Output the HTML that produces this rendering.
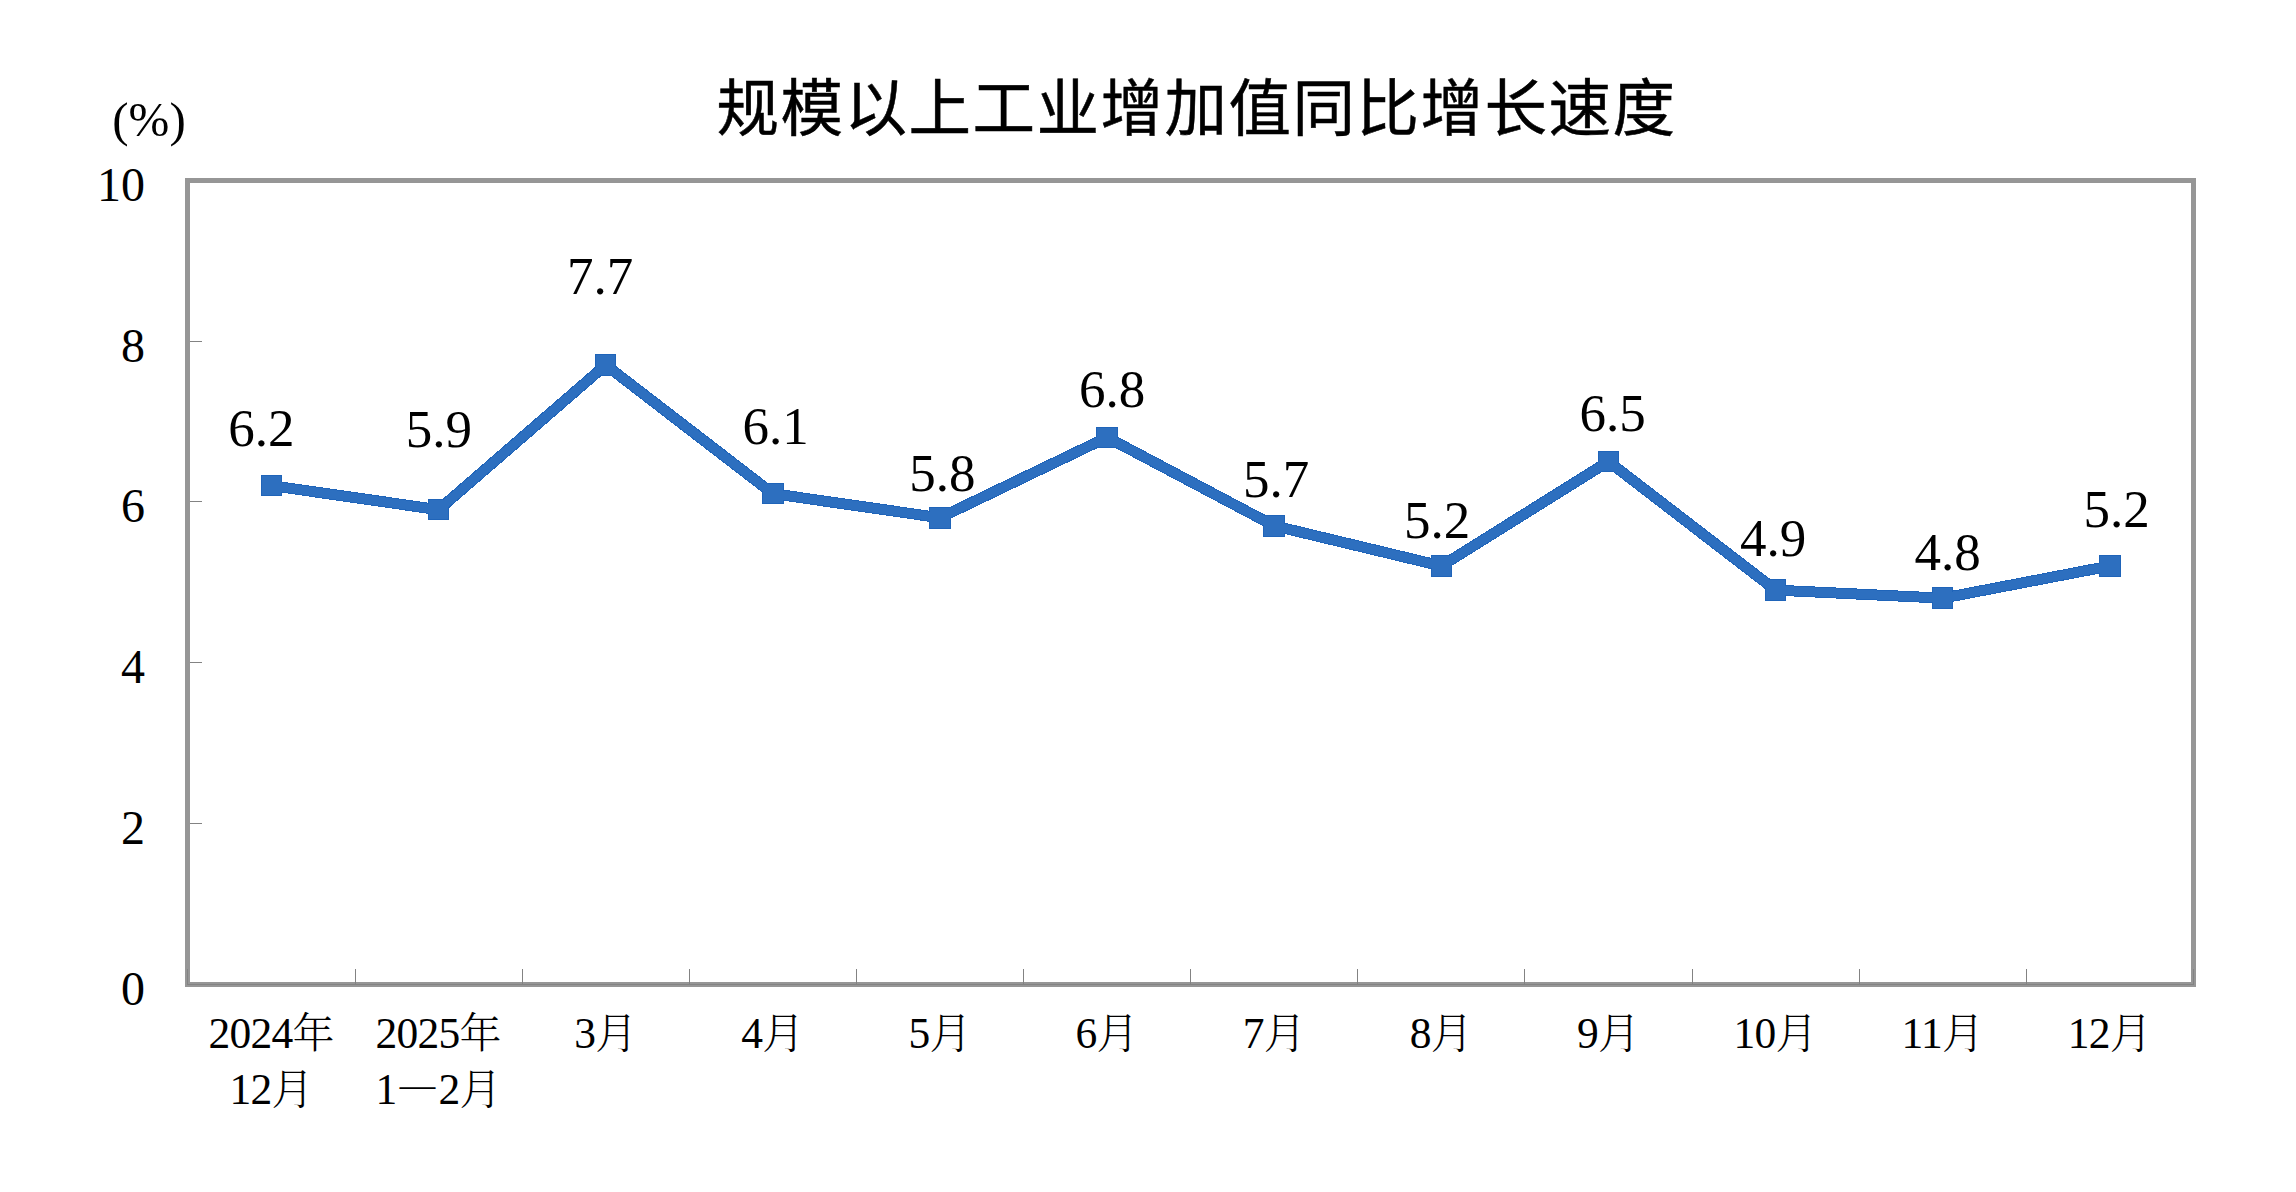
<!DOCTYPE html>
<html lang="zh-CN">
<head>
<meta charset="utf-8">
<title>规模以上工业增加值同比增长速度</title>
<style>
html,body{margin:0;padding:0;background:#fff;}
body{width:2296px;height:1192px;overflow:hidden;}
svg{display:block;}
.num{font-family:"Liberation Serif","Noto Serif CJK SC",serif;fill:#000;}
.title{font-family:"Liberation Sans","Noto Sans CJK SC",sans-serif;font-size:62.5px;letter-spacing:1.5px;font-weight:400;fill:#000;stroke:#000;stroke-width:0.5px;}
.cat{font-family:"Liberation Serif","Noto Serif CJK SC",serif;font-size:42px;font-weight:300;fill:#000;}
.cat .dash{font-family:"Noto Serif CJK SC",serif;font-weight:300;}
.cat .d{font-weight:400;font-size:43.5px;letter-spacing:-0.75px;}
</style>
</head>
<body>
<svg width="2296" height="1192" viewBox="0 0 2296 1192">
<rect x="0" y="0" width="2296" height="1192" fill="#ffffff"/>

<rect x="187.5" y="180.5" width="2006.0" height="804.0" fill="none" stroke="#969696" stroke-width="5"/>
<g stroke="#838383" stroke-width="1" shape-rendering="crispEdges">
<line x1="190" y1="823.5" x2="202" y2="823.5"/>
<line x1="190" y1="662.5" x2="202" y2="662.5"/>
<line x1="190" y1="501.5" x2="202" y2="501.5"/>
<line x1="190" y1="341.5" x2="202" y2="341.5"/>
<line x1="187.5" y1="969" x2="187.5" y2="985"/>
<line x1="355.5" y1="969" x2="355.5" y2="985"/>
<line x1="522.5" y1="969" x2="522.5" y2="985"/>
<line x1="689.5" y1="969" x2="689.5" y2="985"/>
<line x1="856.5" y1="969" x2="856.5" y2="985"/>
<line x1="1023.5" y1="969" x2="1023.5" y2="985"/>
<line x1="1190.5" y1="969" x2="1190.5" y2="985"/>
<line x1="1357.5" y1="969" x2="1357.5" y2="985"/>
<line x1="1524.5" y1="969" x2="1524.5" y2="985"/>
<line x1="1692.5" y1="969" x2="1692.5" y2="985"/>
<line x1="1859.5" y1="969" x2="1859.5" y2="985"/>
<line x1="2026.5" y1="969" x2="2026.5" y2="985"/>
<line x1="2193.5" y1="969" x2="2193.5" y2="985"/>
<line x1="187" y1="984.5" x2="2194" y2="984.5"/>
</g>
<g fill="none" stroke-linejoin="miter" stroke-linecap="butt" shape-rendering="crispEdges">
<polyline points="271.46,485.60 438.59,509.72 605.71,365.00 772.84,493.64 939.96,517.76 1107.09,437.36 1274.21,525.80 1441.34,566.00 1608.46,461.48 1775.59,590.12 1942.71,598.16 2109.84,566.00" stroke="#1f64b9" stroke-width="11"/>
<g fill="#1f64b9" stroke="none">
<rect x="260.71" y="474.85" width="21.5" height="21.5"/>
<rect x="427.84" y="498.97" width="21.5" height="21.5"/>
<rect x="594.96" y="354.25" width="21.5" height="21.5"/>
<rect x="762.09" y="482.89" width="21.5" height="21.5"/>
<rect x="929.21" y="507.01" width="21.5" height="21.5"/>
<rect x="1096.34" y="426.61" width="21.5" height="21.5"/>
<rect x="1263.46" y="515.05" width="21.5" height="21.5"/>
<rect x="1430.59" y="555.25" width="21.5" height="21.5"/>
<rect x="1597.71" y="450.73" width="21.5" height="21.5"/>
<rect x="1764.84" y="579.37" width="21.5" height="21.5"/>
<rect x="1931.96" y="587.41" width="21.5" height="21.5"/>
<rect x="2099.09" y="555.25" width="21.5" height="21.5"/>
</g>
<polyline points="271.46,485.60 438.59,509.72 605.71,365.00 772.84,493.64 939.96,517.76 1107.09,437.36 1274.21,525.80 1441.34,566.00 1608.46,461.48 1775.59,590.12 1942.71,598.16 2109.84,566.00" stroke="#2d6fbf" stroke-width="9"/>
<g fill="#2d6fbf" stroke="none">
<rect x="261.71" y="475.85" width="19.5" height="19.5"/>
<rect x="428.84" y="499.97" width="19.5" height="19.5"/>
<rect x="595.96" y="355.25" width="19.5" height="19.5"/>
<rect x="763.09" y="483.89" width="19.5" height="19.5"/>
<rect x="930.21" y="508.01" width="19.5" height="19.5"/>
<rect x="1097.34" y="427.61" width="19.5" height="19.5"/>
<rect x="1264.46" y="516.05" width="19.5" height="19.5"/>
<rect x="1431.59" y="556.25" width="19.5" height="19.5"/>
<rect x="1598.71" y="451.73" width="19.5" height="19.5"/>
<rect x="1765.84" y="580.37" width="19.5" height="19.5"/>
<rect x="1932.96" y="588.41" width="19.5" height="19.5"/>
<rect x="2100.09" y="556.25" width="19.5" height="19.5"/>
</g>
</g>
<text class="num" id="dl0" x="261.25" y="446.20" font-size="53" text-anchor="middle">6.2</text>
<text class="num" id="dl1" x="438.75" y="447.20" font-size="53" text-anchor="middle">5.9</text>
<text class="num" id="dl2" x="600.00" y="294.45" font-size="53" text-anchor="middle">7.7</text>
<text class="num" id="dl3" x="775.62" y="443.70" font-size="53" text-anchor="middle">6.1</text>
<text class="num" id="dl4" x="942.25" y="490.70" font-size="53" text-anchor="middle">5.8</text>
<text class="num" id="dl5" x="1112.12" y="407.45" font-size="53" text-anchor="middle">6.8</text>
<text class="num" id="dl6" x="1276.00" y="496.95" font-size="53" text-anchor="middle">5.7</text>
<text class="num" id="dl7" x="1437.12" y="537.95" font-size="53" text-anchor="middle">5.2</text>
<text class="num" id="dl8" x="1612.50" y="430.70" font-size="53" text-anchor="middle">6.5</text>
<text class="num" id="dl9" x="1773.00" y="556.20" font-size="53" text-anchor="middle">4.9</text>
<text class="num" id="dl10" x="1947.50" y="569.95" font-size="53" text-anchor="middle">4.8</text>
<text class="num" id="dl11" x="2116.62" y="527.20" font-size="53" text-anchor="middle">5.2</text>
<text class="num" id="yl0" x="145" y="1004.78" font-size="48" text-anchor="end">0</text>
<text class="num" id="yl2" x="145" y="843.98" font-size="48" text-anchor="end">2</text>
<text class="num" id="yl4" x="145" y="683.18" font-size="48" text-anchor="end">4</text>
<text class="num" id="yl6" x="145" y="522.38" font-size="48" text-anchor="end">6</text>
<text class="num" id="yl8" x="145" y="361.58" font-size="48" text-anchor="end">8</text>
<text class="num" id="yl10" x="145" y="200.78" font-size="48" text-anchor="end">10</text>
<text class="num" id="pct" x="149" y="135.5" font-size="49" text-anchor="middle">(%)</text>
<text class="title" id="title" x="716.5" y="130.5">规模以上工业增加值同比增长速度</text>
<text class="cat" id="c0_0" x="271.46" y="1048.00" text-anchor="middle"><tspan class="d">2024</tspan>年</text>
<text class="cat" id="c0_1" x="271.46" y="1103.60" text-anchor="middle"><tspan class="d">12</tspan>月</text>
<text class="cat" id="c1_0" x="438.59" y="1048.00" text-anchor="middle"><tspan class="d">2025</tspan>年</text>
<text class="cat" id="c1_1" x="438.59" y="1103.60" text-anchor="middle"><tspan class="d">1</tspan><tspan class="dash">—</tspan><tspan class="d">2</tspan>月</text>
<text class="cat" id="c2_0" x="605.71" y="1048.00" text-anchor="middle"><tspan class="d">3</tspan>月</text>
<text class="cat" id="c3_0" x="772.84" y="1048.00" text-anchor="middle"><tspan class="d">4</tspan>月</text>
<text class="cat" id="c4_0" x="939.96" y="1048.00" text-anchor="middle"><tspan class="d">5</tspan>月</text>
<text class="cat" id="c5_0" x="1107.09" y="1048.00" text-anchor="middle"><tspan class="d">6</tspan>月</text>
<text class="cat" id="c6_0" x="1274.21" y="1048.00" text-anchor="middle"><tspan class="d">7</tspan>月</text>
<text class="cat" id="c7_0" x="1441.34" y="1048.00" text-anchor="middle"><tspan class="d">8</tspan>月</text>
<text class="cat" id="c8_0" x="1608.46" y="1048.00" text-anchor="middle"><tspan class="d">9</tspan>月</text>
<text class="cat" id="c9_0" x="1775.59" y="1048.00" text-anchor="middle"><tspan class="d">10</tspan>月</text>
<text class="cat" id="c10_0" x="1942.71" y="1048.00" text-anchor="middle"><tspan class="d">11</tspan>月</text>
<text class="cat" id="c11_0" x="2109.84" y="1048.00" text-anchor="middle"><tspan class="d">12</tspan>月</text>
</svg>
</body>
</html>
